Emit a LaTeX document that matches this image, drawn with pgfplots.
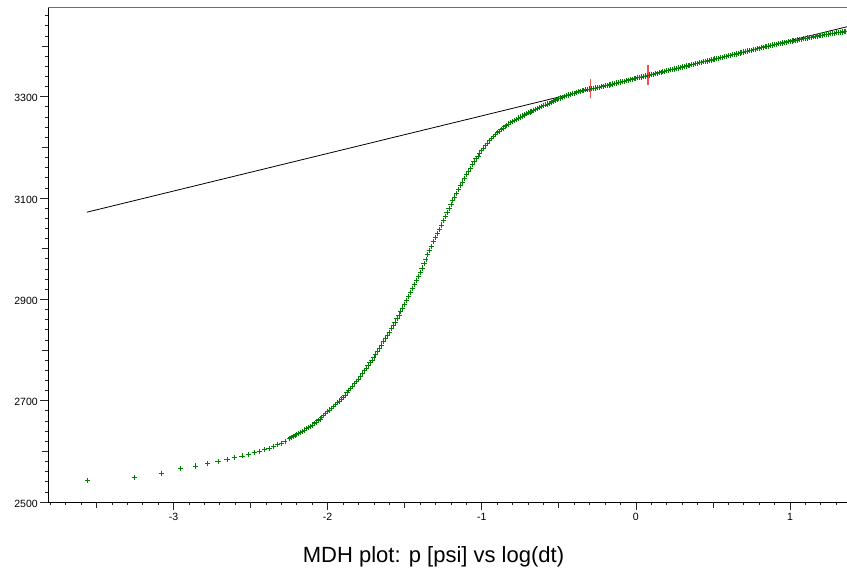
\documentclass[border=0pt]{standalone}
\usepackage{fontspec}
\setmainfont{Liberation Sans}
\usepackage{pgfplots}
\pgfplotsset{compat=1.18}
\usetikzlibrary{calc}
\definecolor{mgreen}{RGB}{0,128,0}
\definecolor{mred}{RGB}{245,80,80}
\definecolor{topgray}{RGB}{110,110,110}
\begin{document}
\begin{tikzpicture}
\begin{axis}[
  scale only axis,
  width=798.7pt, height=495pt,
  xmin=-3.8126, xmax=1.37,
  ymin=2500, ymax=3477,
  axis x line=bottom, axis y line=left,
  axis line style={-, black, line width=0.8pt},
  clip=false,
  tick align=outside,
  tick style={black!85, line width=0.7pt},
  major tick length=8pt,
  minor tick length=3.5pt,
  xtick={-3,-2,-1,0,1},
  minor xtick={-3.8,-3.7,...,1.35},
  ytick={2500,2700,2900,3100,3300},
  minor ytick={2500,2520,...,3470},
  extra x ticks={-3.5,-2.5,-1.5,-0.5,0.5},
  extra x tick labels={},
  extra y ticks={2600,2800,3000,3200,3400},
  extra y tick labels={},
  extra tick style={major tick length=6pt},
  ticklabel style={font=\fontsize{10.5}{12}\selectfont},
  yticklabel style={yshift=-1.5pt, xshift=1pt},
  /pgf/number format/assume math mode=true,
  /pgf/number format/1000 sep={},
  mstyle/.style={only marks, mark=+, mark size=2.6pt, color=mgreen, mark options={draw=mgreen, solid, line width=0.75pt}},
]
\coordinate (SW) at (rel axis cs:0,0);
\coordinate (NE) at (rel axis cs:1,1);
\draw[topgray, line width=0.8pt] (rel axis cs:0,1) -- (rel axis cs:1,1);

\addplot[mstyle] coordinates {
(-3.5563,2543) (-3.2553,2549) (-3.0792,2557) (-2.9542,2566) (-2.8573,2571)
(-2.7782,2576) (-2.7112,2580) (-2.6532,2584) (-2.6021,2588) (-2.5563,2591)
(-2.5149,2594) (-2.4771,2597) (-2.4424,2600) (-2.4102,2603) (-2.3802,2606)
(-2.3522,2610) (-2.3263,2613) (-2.3010,2616) (-2.2775,2620)
(-2.250,2625) (-2.225,2629) (-2.200,2633) (-2.175,2637.5) (-2.150,2642)
(-2.125,2647) (-2.100,2652) (-2.075,2658) (-2.050,2664) (-2.025,2671)
(-2.000,2678) (-1.975,2685) (-1.950,2692) (-1.925,2699.5) (-1.900,2707)
(-1.875,2715.5) (-1.850,2724) (-1.825,2733.5) (-1.800,2743) (-1.775,2753.5)
(-1.750,2764) (-1.725,2775) (-1.700,2786) (-1.675,2798) (-1.650,2810)
(-1.625,2822.5) (-1.600,2835) (-1.575,2848.5) (-1.550,2862) (-1.525,2876)
(-1.500,2890) (-1.475,2905.5) (-1.450,2921) (-1.425,2937) (-1.400,2953)
(-1.375,2970.5) (-1.350,2988) (-1.325,3005) (-1.300,3022) (-1.275,3038.5)
(-1.250,3055) (-1.225,3071) (-1.200,3087) (-1.175,3102) (-1.150,3117)
(-1.125,3131.5) (-1.100,3146) (-1.075,3159) (-1.050,3172) (-1.025,3183)
(-1.000,3194) (-0.975,3203.5) (-0.950,3213) (-0.925,3221) (-0.900,3229)
(-0.875,3235) (-0.850,3241) (-0.825,3246) (-0.800,3251) (-0.775,3255.5)
(-0.750,3260) (-0.725,3264) (-0.700,3268) (-0.675,3271.5) (-0.650,3275)
(-0.625,3278.5) (-0.600,3282) (-0.575,3285.5) (-0.550,3289) (-0.525,3292.5)
(-0.500,3296) (-0.475,3299) (-0.450,3302) (-0.425,3304.5) (-0.400,3307)
(-0.375,3309.5) (-0.350,3312) (-0.325,3313.5) (-0.300,3315) (-0.275,3316.5)
(-0.250,3318) (-0.225,3319.5) (-0.200,3321.4) (-0.175,3323.2) (-0.150,3325.1)
(-0.125,3327) (-0.100,3328.8) (-0.075,3330.6) (-0.050,3332.5) (-0.025,3334.4)
(0.000,3336.2) (0.025,3338) (0.050,3339.9) (0.075,3341.8) (0.100,3343.6)
(0.125,3345.4) (0.150,3347.3) (0.175,3349.2) (0.200,3351) (0.225,3352.9)
(0.250,3354.8) (0.275,3356.6) (0.300,3358.5) (0.325,3360.4) (0.350,3362.2)
(0.375,3364) (0.400,3365.9) (0.425,3367.8) (0.450,3369.6) (0.475,3371.4)
(0.500,3373.3) (0.525,3375.2) (0.550,3377) (0.575,3378.8) (0.600,3380.7)
(0.625,3382.6) (0.650,3384.4) (0.675,3386.2) (0.700,3388.1) (0.725,3390)
(0.750,3391.9) (0.775,3393.8) (0.800,3395.6) (0.825,3397.4) (0.850,3399.3)
(0.875,3401) (0.900,3402.7) (0.925,3404.4) (0.950,3406) (0.975,3407.5)
(1.000,3409) (1.025,3410.5) (1.050,3412) (1.075,3413.5) (1.100,3415)
(1.125,3416.5) (1.150,3418) (1.175,3419.5) (1.200,3421) (1.225,3422.2)
(1.250,3423.5) (1.275,3424.8) (1.300,3426) (1.325,3427) (1.350,3428)
};
\addplot[mstyle] coordinates {
(-2.2375,2627) (-2.2125,2631) (-2.1875,2635.2) (-2.1625,2639.8) (-2.1375,2644.5)
(-2.1125,2649.5) (-2.0875,2655) (-2.0625,2661) (-2.0375,2667.5) (-2.0125,2674.5)
(-1.9875,2681.5) (-1.9625,2688.5) (-1.9375,2695.8) (-1.9125,2703.2) (-1.8875,2711.2)
(-1.8625,2719.8) (-1.8375,2728.8) (-1.8125,2738.2) (-1.7875,2748.2) (-1.7625,2758.8)
(-1.7375,2769.5) (-1.7125,2780.5) (-1.6875,2792) (-1.6625,2804) (-1.6375,2816.2)
(-1.6125,2828.8) (-1.5875,2841.8) (-1.5625,2855.2) (-1.5375,2869) (-1.5125,2883)
(-1.4875,2897.8) (-1.4625,2913.2) (-1.4375,2929) (-1.4125,2945) (-1.3875,2961.8)
(-1.3625,2979.2) (-1.3375,2996.5) (-1.3125,3013.5) (-1.2875,3030.2) (-1.2625,3046.8)
(-1.2375,3063) (-1.2125,3079) (-1.1875,3094.5) (-1.1625,3109.5) (-1.1375,3124.2)
(-1.1125,3138.8) (-1.0875,3152.5) (-1.0625,3165.5) (-1.0375,3177.5) (-1.0125,3188.5)
(-0.9875,3198.8) (-0.9625,3208.2) (-0.9375,3217) (-0.9125,3225) (-0.8875,3232)
(-0.8625,3238) (-0.8375,3243.5) (-0.8125,3248.5) (-0.7875,3253.2) (-0.7625,3257.8)
(-0.7375,3262) (-0.7125,3266) (-0.6875,3269.8) (-0.6625,3273.2) (-0.6375,3276.8)
(-0.6125,3280.2) (-0.5875,3283.8) (-0.5625,3287.2) (-0.5375,3290.8) (-0.5125,3294.2)
(-0.4875,3297.5) (-0.4625,3300.5) (-0.4375,3303.2) (-0.4125,3305.8) (-0.3875,3308.2)
(-0.3625,3310.8) (-0.3375,3312.8) (-0.3125,3314.2) (-0.2875,3315.8) (-0.2625,3317.2)
(-0.2375,3318.8) (-0.2125,3320.4) (-0.1875,3322.3) (-0.1625,3324.2) (-0.1375,3326)
(-0.1125,3327.9) (-0.0875,3329.7) (-0.0625,3331.6) (-0.0375,3333.4) (-0.0125,3335.3)
(0.0125,3337.1) (0.0375,3339) (0.0625,3340.8) (0.0875,3342.7) (0.1125,3344.5)
(0.1375,3346.4) (0.1625,3348.2) (0.1875,3350.1) (0.2125,3352) (0.2375,3353.8)
(0.2625,3355.7) (0.2875,3357.6) (0.3125,3359.4) (0.3375,3361.3) (0.3625,3363.1)
(0.3875,3365) (0.4125,3366.8) (0.4375,3368.7) (0.4625,3370.5) (0.4875,3372.4)
(0.5125,3374.2) (0.5375,3376.1) (0.5625,3377.9) (0.5875,3379.8) (0.6125,3381.6)
(0.6375,3383.5) (0.6625,3385.3) (0.6875,3387.2) (0.7125,3389) (0.7375,3391)
(0.7625,3392.8) (0.7875,3394.7) (0.8125,3396.5) (0.8375,3398.4) (0.8625,3400.2)
(0.8875,3401.8) (0.9125,3403.5) (0.9375,3405.2) (0.9625,3406.8) (0.9875,3408.2)
(1.0125,3409.8) (1.0375,3411.2) (1.0625,3412.8) (1.0875,3414.2) (1.1125,3415.8)
(1.1375,3417.2) (1.1625,3418.8) (1.1875,3420.2) (1.2125,3421.6) (1.2375,3422.8)
(1.2625,3424.2) (1.2875,3425.4) (1.3125,3426.5) (1.3375,3427.5) (1.3625,3428.3)
};

\addplot[black, line width=0.8pt] coordinates {(-3.562,3072) (1.37,3438)};

\addplot[draw=mred, line width=1.3pt] coordinates {(-0.294,3296.5) (-0.294,3334.5)};
\addplot[draw=mred, line width=1.3pt] coordinates {(0.078,3323) (0.078,3362.5)};

\node[anchor=base, font=\fontsize{22}{26}\selectfont] at ([yshift=-60.5pt]rel axis cs:0.4823,0) {MDH plot: p [psi] vs log(dt)};
\end{axis}
\pgfresetboundingbox
\path ($(SW)+(-48.3pt,-70pt)$) rectangle ($(NE)+(0pt,7pt)$);
\end{tikzpicture}
\end{document}
